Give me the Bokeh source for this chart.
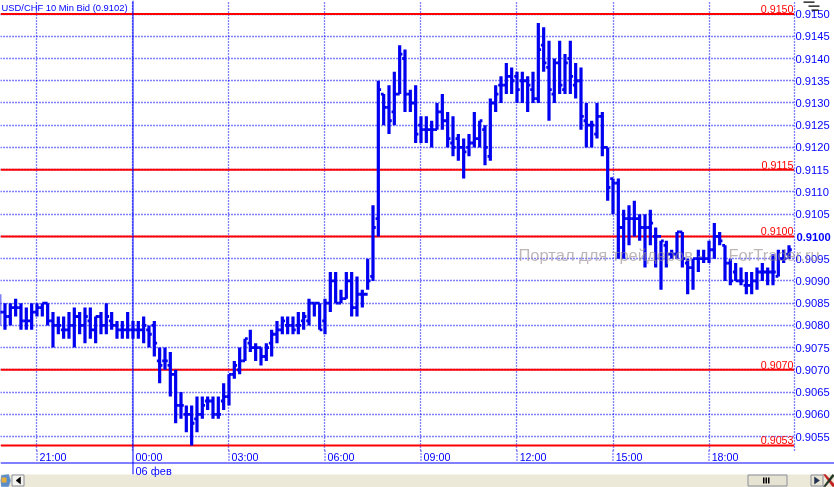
from bokeh.plotting import figure
from bokeh.models import Range1d, FixedTicker, ColumnDataSource
from bokeh.core.properties import value
from bokeh.embed import file_html
from bokeh.resources import INLINE

TITLE = "USD/CHF 10 Min Bid (0.9102)"
WATERMARK_LEFT = "Портал для трейдеров -"
WATERMARK_RIGHT = "ForTrader.ru"
DATE_LABEL = "06 фев"
FONT = "Liberation Sans"
BLUE = "#0000FF"
BAR = "#0000F0"
RED = "#FF0000"

# prices in 1/10000 (pips); bar index counts 10-minute bars from 00:00
first_bar = -25
high = [9087,9085,9085,9086,9085,9084,9085,9085,9085,9085,
        9083,9082,9082,9083,9084,9083,9084,9084,9082,9083,
        9085,9083,9081,9081,9083,9081,9081,9082,9080,9081,
        9075,9075,9074,9070,9065,9062,9062,9064,9064,9064,
        9064,9064,9067,9069,9072,9075,9077,9079,9076,9075,
        9076,9079,9081,9082,9082,9082,9083,9083,9086,9085,
        9085,9086,9092,9092,9088,9092,9092,9091,9088,9095,
        9107,9135,9132,9134,9137,9143,9142,9133,9134,9127,
        9127,9126,9130,9132,9128,9127,9123,9122,9123,9128,
        9126,9125,9131,9134,9136,9139,9138,9137,9137,9136,
        9137,9148,9147,9144,9140,9144,9141,9144,9139,9138,
        9130,9126,9130,9128,9120,9113,9113,9106,9107,9108,
        9105,9105,9106,9102,9099,9099,9097,9101,9101,9095,
        9095,9097,9097,9099,9103,9101,9098,9095,9094,9093,
        9092,9092,9093,9094,9093,9096,9097,9097,9098]
low = [9080,9079,9080,9082,9079,9079,9079,9082,9082,9080,
       9075,9078,9077,9077,9075,9078,9076,9077,9076,9078,
       9078,9079,9077,9077,9077,9077,9077,9076,9075,9073,
       9067,9070,9064,9058,9059,9056,9053,9056,9059,9061,
       9059,9059,9061,9062,9068,9069,9072,9074,9072,9071,
       9072,9073,9076,9078,9078,9078,9078,9079,9080,9082,
       9079,9078,9083,9085,9085,9086,9082,9082,9084,9088,
       9090,9100,9125,9123,9125,9132,9128,9128,9121,9121,
       9121,9120,9124,9124,9120,9118,9117,9113,9118,9120,
       9120,9116,9117,9128,9130,9132,9132,9130,9130,9128,
       9130,9130,9137,9126,9130,9132,9132,9132,9131,9124,
       9120,9120,9122,9118,9108,9105,9095,9095,9098,9100,
       9099,9093,9098,9093,9088,9093,9095,9095,9093,9087,
       9088,9092,9094,9094,9095,9098,9090,9089,9090,9089,
       9087,9087,9088,9090,9089,9089,9091,9094,9095]
open_ = [9084,9083,9082,9084,9084,9081,9081,9083,9084,9085,
         9081,9080,9079,9079,9080,9082,9080,9081,9079,9082,
         9080,9081,9080,9079,9079,9079,9079,9079,9079,9080,
         9072,9072,9071,9069,9062,9060,9060,9059,9060,9063,
         9063,9060,9063,9064,9069,9070,9072,9076,9075,9075,
         9073,9076,9078,9079,9080,9080,9080,9081,9081,9085,
         9085,9081,9085,9090,9085,9086,9090,9084,9087,9087,
         9091,9104,9132,9129,9128,9132,9140,9132,9130,9125,
         9124,9124,9124,9128,9126,9121,9122,9120,9120,9121,
         9122,9124,9118,9130,9134,9134,9136,9136,9135,9135,
         9133,9131,9143,9138,9132,9139,9133,9140,9134,9135,
         9126,9125,9123,9127,9120,9113,9112,9102,9104,9104,
         9104,9102,9102,9100,9100,9098,9096,9096,9101,9094,
         9093,9095,9095,9095,9097,9100,9098,9094,9092,9090,
         9089,9089,9090,9092,9092,9092,9091,9095,9096]
close = [9083,9082,9084,9084,9081,9081,9083,9084,9085,9081,
         9080,9080,9079,9080,9082,9080,9082,9079,9082,9080,
         9082,9080,9079,9079,9079,9079,9079,9080,9078,9076,
         9071,9072,9069,9062,9062,9060,9058,9060,9062,9063,
         9060,9060,9064,9069,9071,9072,9077,9075,9075,9073,
         9075,9078,9079,9081,9080,9079,9080,9082,9085,9085,
         9079,9085,9090,9085,9086,9090,9084,9087,9087,9090,
         9102,9133,9129,9126,9132,9141,9132,9130,9123,9124,
         9124,9124,9128,9126,9122,9120,9120,9119,9121,9122,
         9126,9120,9130,9132,9134,9136,9135,9133,9135,9134,
         9131,9142,9139,9133,9139,9134,9139,9136,9135,9127,
         9125,9125,9127,9120,9111,9112,9102,9104,9104,9104,
         9102,9102,9103,9100,9099,9096,9096,9101,9095,9093,
         9095,9095,9095,9097,9100,9099,9094,9090,9090,9090,
         9089,9090,9092,9092,9092,9092,9095,9095,9097]

hour_ticks = [-18, 0, 18, 36, 54, 72, 90, 108]
hour_labels = ["21:00", "00:00", "03:00", "06:00", "09:00", "12:00", "15:00", "18:00"]
price_ticks = [9150, 9145, 9140, 9135, 9130, 9125, 9120, 9115, 9110, 9105,
               9100, 9095, 9090, 9085, 9080, 9075, 9070, 9065, 9060, 9055]
price_labels = ["0.9150", "0.9145", "0.9140", "0.9135", "0.9130", "0.9125", "0.9120",
                "0.9115", "0.9110", "0.9105", "", "0.9095", "0.9090", "0.9085",
                "0.9080", "0.9075", "0.9070", "0.9065", "0.9060", "0.9055"]
level_values = [9150, 9115, 9100, 9070, 9053]
level_labels = ["0.9150", "0.9115", "0.9100", "0.9070", "0.9053"]

FS = "10.7px"
LABEL_SHIFT = 3  # hour labels sit to the right of their grid line
X0, X1 = -24.84, 124.03
Y0, Y1 = 9051.87, 9153.04

p = figure(width=834, height=487, frame_width=794, frame_height=450,
           output_backend="svg", toolbar_location=None, tools="",
           x_range=Range1d(X0, X1), y_range=Range1d(Y0, Y1),
           x_axis_location="below", y_axis_location="right",
           min_border_left=0, min_border_top=0, min_border_bottom=37, min_border_right=40,
           outline_line_color=None, background_fill_color="white", border_fill_color="white")
p.styles = {"position": "fixed", "left": "0px", "top": "0px"}

# axes
shifted = [t + LABEL_SHIFT for t in hour_ticks]
xa = p.xaxis[0]
xa.ticker = FixedTicker(ticks=shifted)
xa.major_label_overrides = dict(zip(shifted, hour_labels))
xa.axis_line_color = None
xa.major_tick_in = 0
xa.major_tick_out = 0
xa.major_tick_line_color = None
xa.major_label_standoff = 0
xa.major_label_text_color = BLUE
xa.major_label_text_font = FONT
xa.major_label_text_font_size = FS
xa.minor_tick_out = 0
xa.minor_tick_in = 0

ya = p.yaxis[0]
ya.ticker = FixedTicker(ticks=price_ticks)
ya.major_label_overrides = dict(zip(price_ticks, price_labels))
ya.axis_line_color = BLUE
ya.axis_line_dash = "1 2"
ya.axis_line_width = 1.3
ya.major_tick_in = 0
ya.major_tick_out = 0
ya.minor_tick_in = 0
ya.minor_tick_out = 0
ya.major_label_standoff = 1
ya.major_label_text_color = BLUE
ya.major_label_text_font = FONT
ya.major_label_text_font_size = "11.2px"

p.xgrid[0].ticker = FixedTicker(ticks=hour_ticks)
p.ygrid[0].ticker = FixedTicker(ticks=price_ticks)
for g in (p.xgrid[0], p.ygrid[0]):
    g.grid_line_color = BLUE
    g.grid_line_dash = "1 2"
    g.grid_line_width = 1.3

# levels
p.segment(x0=X0, x1=X1, y0=level_values, y1=level_values, line_color=RED, line_width=2)
p.text(x=[X1] * len(level_values), y=level_values, text=level_labels,
       text_color=RED, text_font=value(FONT), text_font_size=value(FS),
       text_align="right", text_baseline="bottom", x_offset=-1, y_offset=-1)

# bars
xs = [first_bar + i for i in range(len(high))]
src = ColumnDataSource(dict(x=xs, xl=[v - 0.52 for v in xs], xr=[v + 0.52 for v in xs],
                            h=high, l=low, o=open_, c=close))
p.segment("x", "l", "x", "h", source=src, line_color=BAR, line_width=3.2)
p.segment("xl", "o", "x", "o", source=src, line_color=BAR, line_width=2.8)
p.segment("x", "c", "xr", "c", source=src, line_color=BAR, line_width=2.8)

# overlay in window pixels for the program's frame: date strip, scroll bar, page-wide texts
o = figure(width=834, height=487, output_backend="svg", toolbar_location=None, tools="",
           x_range=Range1d(0, 834), y_range=Range1d(487, 0),
           x_axis_location=None, y_axis_location=None, min_border=0,
           outline_line_color=None, background_fill_color=None, border_fill_color=None)
o.grid.visible = False
o.styles = {"position": "fixed", "left": "0px", "top": "0px"}


def box(left, top, right, bottom, color, line=None):
    o.quad(left=[left], right=[right], top=[top], bottom=[bottom], fill_color=color,
           line_color=line)


def poly(xs_, ys_, color):
    o.patch(xs_, ys_, fill_color=color, line_color=color, line_width=0.5)


def label(x, y, text, color=BLUE, size=FS, style="normal", alpha=1.0, baseline="top", font=FONT):
    o.text(x=[x], y=[y], text=[text], text_color=color, text_font=value(font),
           text_font_size=value(size), text_font_style=style, text_alpha=alpha,
           text_baseline=baseline)


label(518, 254, WATERMARK_LEFT, color="#9C9090", size="16.5px", alpha=0.65, baseline="middle")
label(728, 254, WATERMARK_RIGHT, color="#9C9090", size="16.5px", alpha=0.65, baseline="middle")

# grid tails through the hour-label row
px_per_bar = 794 / (X1 - X0)
for t in hour_ticks:
    px = (t - X0) * px_per_bar
    if t != 0:
        o.segment([px], [450], [px], [462], line_color=BLUE, line_dash="1 2", line_width=1.3)
o.segment([(0 - X0) * px_per_bar], [0], [(0 - X0) * px_per_bar], [474], line_color=BLUE, line_width=1)
o.segment([0], [462.5], [834], [462.5], line_color=BLUE, line_width=1)

box(0, 474, 834, 487, "#ECE9D8")
box(11.5, 474.5, 23.5, 485.5, "#F4F3EE", "#8A8F99")
poly([15.5, 20, 20], [480, 476.5, 483.5], "#000000")
poly([1, 8, 10, 8, 1, 0], [475, 474, 480, 486, 486, 480], "#5B8DC9")
box(1, 477, 6, 482, "#E8B03A")
box(747.5, 474.5, 786.5, 485.5, "#E6E3D3", "#8A8F99")
box(762.5, 477, 764, 483, "#000000")
box(765, 477, 766.5, 483, "#000000")
box(767.5, 477, 769, 483, "#000000")
box(810.5, 474.5, 822.5, 485.5, "#E6E3D3", "#8A8F99")
poly([814, 819, 814], [476.5, 480, 483.5], "#203050")
poly([823, 825, 834, 834, 832], [474, 474, 484, 486, 486], "#C02020")
poly([832, 834, 825, 823], [474, 475, 486, 486], "#203020")
# cursor glyph at top right
box(803, 1, 814, 2.2, "#000000")
box(808, 5, 819, 6.2, "#000000")
box(811, 9, 818, 10.2, "#000000")

label(1, 1, TITLE, size="9.4px")
label(135, 464, DATE_LABEL, size="11px")
label(796, 236, "0.9100", style="bold", baseline="middle", size="11.2px")

open("out.html", "w").write(file_html([p, o], INLINE))
